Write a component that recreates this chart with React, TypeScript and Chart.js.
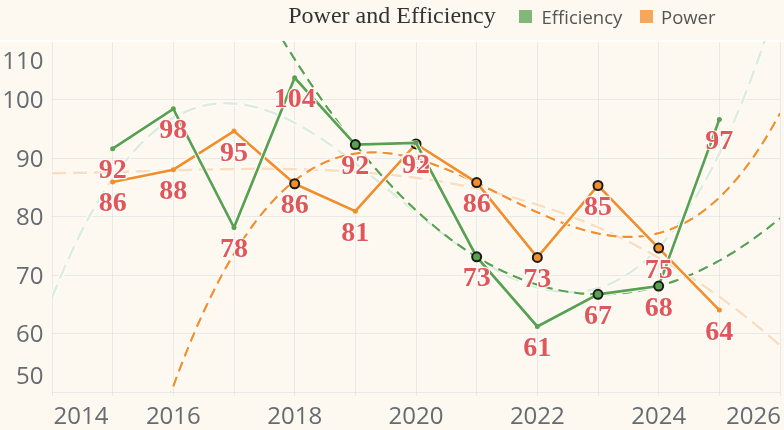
import React, { useEffect, useRef } from "react";
import { Chart, registerables } from "chart.js";

Chart.register(...registerables);

// data
const years = [2015, 2016, 2017, 2018, 2019, 2020, 2021, 2022, 2023, 2024, 2025];
const efficiency = [91.6, 98.4, 78.1, 103.7, 92.3, 92.6, 73.1, 61.2, 66.7, 68.1, 96.6];
const power = [85.9, 88.0, 94.6, 85.6, 80.9, 92.4, 85.8, 73.0, 85.3, 74.6, 64.0];
// points marked with a black ring (used for the dark trend fits)
const efficiencyFitYears = [2019, 2021, 2023, 2024];
const powerFitYears = [2018, 2020, 2021, 2022, 2023, 2024];
const xTickLabels = [2014, 2016, 2018, 2020, 2022, 2024, 2026];
const yTickLabels = [50, 60, 70, 80, 90, 100, 110];

const GREEN = "#59a14f";
const ORANGE = "#f28e2b";
const RED = "#e15759";
const GRID = "rgba(190,200,215,0.3)";
const TICK = "#666b72";
const BG = "#fdf9f0";

// least squares cubic, x centred on 2020
function cubicFit(xs: number[], ys: number[]) {
  const n = 4;
  const A: number[][] = [];
  for (let r = 0; r < n; r++) {
    A.push(new Array(n + 1).fill(0));
  }
  xs.forEach((x0, k) => {
    const x = x0 - 2020;
    for (let r = 0; r < n; r++) {
      for (let c = 0; c < n; c++) A[r][c] += Math.pow(x, r + c);
      A[r][n] += Math.pow(x, r) * ys[k];
    }
  });
  for (let i = 0; i < n; i++) {
    let p = i;
    for (let r = i + 1; r < n; r++) if (Math.abs(A[r][i]) > Math.abs(A[p][i])) p = r;
    [A[i], A[p]] = [A[p], A[i]];
    for (let r = 0; r < n; r++) {
      if (r === i) continue;
      const f = A[r][i] / A[i][i];
      for (let c = i; c <= n; c++) A[r][c] -= f * A[i][c];
    }
  }
  const coef = A.map((row, i) => row[n] / row[i]);
  return (x0: number) => {
    const x = x0 - 2020;
    return coef[0] + coef[1] * x + coef[2] * x * x + coef[3] * x * x * x;
  };
}

const pick = (vals: number[], keep: number[]) =>
  years.map((y, i) => ({ y, v: vals[i] })).filter((d) => keep.includes(d.y));

function trendData(fn: (x: number) => number) {
  const pts: { x: number; y: number }[] = [];
  for (let i = 0; i <= 240; i++) {
    const x = 2014 + i * 0.05;
    pts.push({ x, y: fn(x) });
  }
  return pts;
}

function lineSets(
  label: string,
  data: { x: number; y: number }[],
  color: string,
  width: number,
  dash: number[],
  order: number,
  extra: any = {}
) {
  return [
    {
      label,
      data,
      borderColor: color,
      borderWidth: width,
      borderDash: dash,
      pointRadius: 0,
      order,
      ...extra,
    },
    {
      label: label + "-halo",
      data,
      borderColor: "rgba(255,255,255,0.95)",
      borderWidth: width + 2,
      borderDash: dash,
      pointRadius: 0,
      order: order + 0.5,
    },
  ];
}

const markStyle = (fitYears: number[], color: string) => ({
  pointRadius: years.map((y) => (fitYears.includes(y) ? 4.5 : 2.5)),
  pointBorderWidth: years.map((y) => (fitYears.includes(y) ? 2 : 0)),
  pointBorderColor: "#1a1a1a",
  pointBackgroundColor: color,
});

const axisText = {
  id: "axisText",
  afterDraw(chart: any) {
    const { ctx, chartArea: a, scales } = chart;
    ctx.save();
    ctx.font = '24px "Open Sans"';
    ctx.fillStyle = TICK;
    ctx.textBaseline = "alphabetic";
    ctx.textAlign = "right";
    yTickLabels.forEach((v) => {
      const y = scales.y.getPixelForValue(v);
      const base = Math.min(Math.max(y + 8.5, a.top + 28), a.bottom - 8.5);
      ctx.fillText(String(v), a.left - 8.5, base);
    });
    ctx.textAlign = "left";
    xTickLabels.forEach((v) => {
      const x = scales.x.getPixelForValue(v);
      const w = ctx.measureText(String(v)).width;
      const left = Math.min(Math.max(x - w / 2, a.left + 1.5), chart.width - w - 3);
      ctx.fillText(String(v), left, a.bottom + 31.5);
    });
    ctx.restore();
  },
};

const topRule = {
  id: "topRule",
  beforeDatasetsDraw(chart: any) {
    const { ctx, chartArea: a } = chart;
    ctx.save();
    ctx.strokeStyle = "#ffffff";
    ctx.lineWidth = 2;
    ctx.beginPath();
    ctx.moveTo(0, a.top);
    ctx.lineTo(chart.width, a.top);
    ctx.stroke();
    ctx.restore();
  },
};

const valueLabels = {
  id: "valueLabels",
  afterDatasetsDraw(chart: any) {
    const { ctx } = chart;
    ctx.save();
    ctx.font = 'bold 28px "Liberation Serif"';
    ctx.textAlign = "center";
    ctx.textBaseline = "alphabetic";
    ctx.lineJoin = "round";
    const series: [string, number[]][] = [
      ["Efficiency", efficiency],
      ["Power", power],
    ];
    series.forEach(([name, vals]) => {
      const idx = chart.data.datasets.findIndex((d: any) => d.label === name);
      const meta = chart.getDatasetMeta(idx);
      meta.data.forEach((pt: any, i: number) => {
        const txt = String(Math.round(vals[i]));
        ctx.strokeStyle = "rgba(255,255,255,0.85)";
        ctx.lineWidth = 2.5;
        ctx.strokeText(txt, pt.x, pt.y + 29.5);
        ctx.fillStyle = RED;
        ctx.fillText(txt, pt.x, pt.y + 29.5);
      });
    });
    ctx.restore();
  },
};

const App: React.FC = () => {
  const canvasRef = useRef<HTMLCanvasElement>(null);
  const chartRef = useRef<Chart | null>(null);

  useEffect(() => {
    document.body.style.margin = "0";
    if (!canvasRef.current) return;
    if (chartRef.current) chartRef.current.destroy();

    const effFit = pick(efficiency, efficiencyFitYears);
    const powFit = pick(power, powerFitYears);
    const effDark = cubicFit(effFit.map((d) => d.y), effFit.map((d) => d.v));
    const powDark = cubicFit(powFit.map((d) => d.y), powFit.map((d) => d.v));
    const effLight = cubicFit(years, efficiency);
    const powLight = cubicFit(years, power);

    const effPts = years.map((x, i) => ({ x, y: efficiency[i] }));
    const powPts = years.map((x, i) => ({ x, y: power[i] }));

    const datasets: any[] = [
      ...lineSets("Efficiency", effPts, GREEN, 2.7, [], 1, markStyle(efficiencyFitYears, GREEN)),
      ...lineSets("Power", powPts, ORANGE, 2.7, [], 3, markStyle(powerFitYears, ORANGE)),
      ...lineSets("Power trend", trendData(powDark), ORANGE, 2.2, [10, 6], 5),
      ...lineSets("Efficiency trend", trendData(effDark), GREEN, 2.2, [10, 6], 7),
      ...lineSets("Power trend (all)", trendData(powLight), "rgba(242,142,43,0.3)", 2.6, [14, 7], 9),
      ...lineSets("Efficiency trend (all)", trendData(effLight), "rgba(89,161,79,0.2)", 2.6, [14, 7], 11),
    ];

    chartRef.current = new Chart(canvasRef.current, {
      type: "line",
      data: { datasets },
      options: {
        animation: false,
        responsive: false,
        events: [],
        layout: { padding: { top: 41, left: 0, right: 0, bottom: 0 } },
        plugins: {
          legend: { display: false },
          tooltip: { enabled: false },
        },
        scales: {
          x: {
            type: "linear",
            min: 2014,
            max: 2026,
            ticks: { display: false, stepSize: 1 },
            grid: { color: GRID, drawTicks: true, tickLength: 4 },
            border: { display: false },
            afterFit: (s: any) => {
              s.height = 38;
            },
          },
          y: {
            min: 50,
            max: 110,
            ticks: { display: false, stepSize: 10 },
            grid: { color: GRID, drawTicks: false },
            border: { display: false },
            afterFit: (s: any) => {
              s.width = 52;
            },
          },
        },
      } as any,
      plugins: [topRule, valueLabels, axisText],
    });

    return () => {
      if (chartRef.current) {
        chartRef.current.destroy();
        chartRef.current = null;
      }
    };
  }, []);

  const legendText: React.CSSProperties = {
    position: "absolute",
    top: 8.4,
    font: '18.5px "Open Sans"',
    lineHeight: "18.5px",
    color: "#555",
    whiteSpace: "nowrap",
  };

  return (
    <div style={{ position: "relative", width: 784, height: 430, background: BG, overflow: "hidden" }}>
      <canvas ref={canvasRef} width={784} height={430} style={{ position: "absolute", left: 0, top: 0 }} />
      <div
        style={{
          position: "absolute",
          left: 0,
          top: 3,
          width: 784,
          textAlign: "center",
          font: '24px "Liberation Serif"',
          lineHeight: "24px",
          color: "#333",
        }}
      >
        Power and Efficiency
      </div>
      <div style={{ position: "absolute", left: 519, top: 10, width: 13, height: 13, background: "#82b777" }} />
      <div style={{ ...legendText, left: 541.5 }}>Efficiency</div>
      <div style={{ position: "absolute", left: 639.5, top: 10, width: 13, height: 13, background: "#f5a75c" }} />
      <div style={{ ...legendText, left: 661 }}>Power</div>
    </div>
  );
};

export default App;
